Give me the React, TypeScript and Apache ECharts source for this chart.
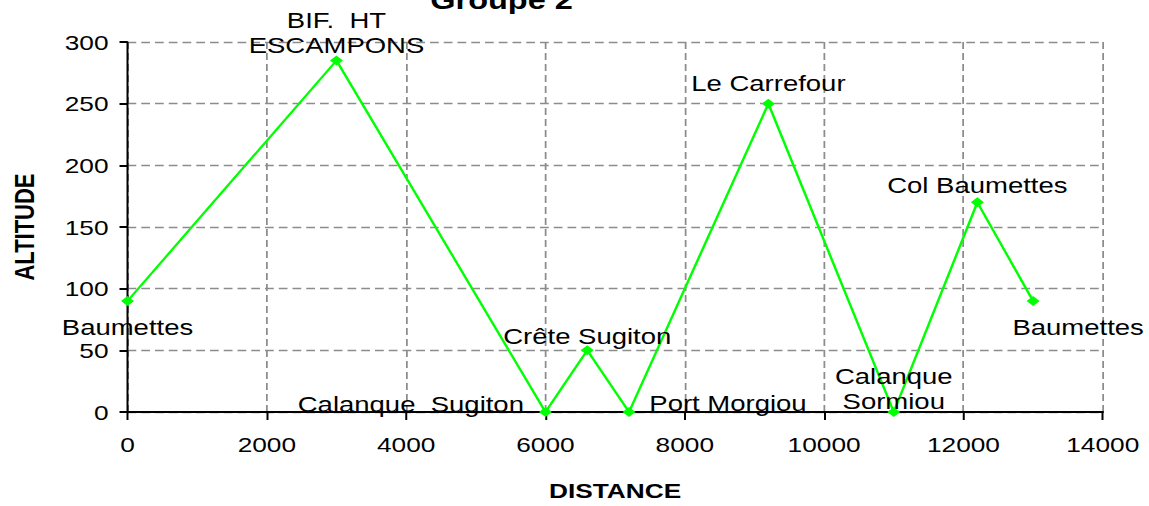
import React, { useEffect, useRef } from "react";
import * as echarts from "echarts";

const distances = [0, 3000, 6000, 6600, 7200, 9200, 11000, 12200, 13000];
const altitudes = [90, 285, 0, 50, 0, 250, 0, 170, 90];
const placeNames = [
  "Baumettes",
  "BIF.  HT\nESCAMPONS",
  "Calanque  Sugiton",
  "Crête Sugiton",
  "Port Morgiou",
  "Le Carrefour",
  "Calanque\nSormiou",
  "Col Baumettes",
  "Baumettes",
];
const xTicks = [0, 2000, 4000, 6000, 8000, 10000, 12000, 14000];
const yTicks = [0, 50, 100, 150, 200, 250, 300];

// The reference is stretched horizontally; the chart is drawn narrower and scaled in X.
const SX = 1.25;
const W = 1149 / SX;

// label placement per point (style only, inner coordinates)
const labelPlacement: any[] = [
  { position: "bottom", distance: 12, offset: [0, 0], align: "center", lh: 18 },
  { position: "top", distance: -2, offset: [0, 0], align: "center", lh: 25 },
  { position: "left", distance: 12, offset: [0, -8], align: "right", lh: 25 },
  { position: "top", distance: -3, offset: [0, 0], align: "center", lh: 25 },
  { position: "right", distance: 11, offset: [0, -9], align: "left", lh: 25 },
  { position: "top", distance: 3, offset: [0, 0], align: "center", lh: 25 },
  { position: "top", distance: -7, offset: [0, 0], align: "center", lh: 25 },
  { position: "top", distance: 0, offset: [0, 0], align: "center", lh: 25 },
  { position: "bottom", distance: 12, offset: [36, 0], align: "center", lh: 18 },
];

const FONT = "Liberation Sans";

export default function App() {
  const ref = useRef<HTMLDivElement>(null);
  useEffect(() => {
    if (!ref.current) return;
    const chart = echarts.init(ref.current, undefined, { renderer: "svg" });
    const data = distances.map((d, i) => ({
      value: [d, altitudes[i]],
      name: placeNames[i],
      label: {
        show: true,
        formatter: placeNames[i],
        position: labelPlacement[i].position,
        distance: labelPlacement[i].distance,
        offset: labelPlacement[i].offset,
        align: labelPlacement[i].align,
        color: "#000",
        fontFamily: FONT,
        fontSize: 22,
        lineHeight: labelPlacement[i].lh,
      },
    }));
    const gridLine = {
      show: true,
      lineStyle: { color: "#8c8c8c", width: 1.4, type: [7, 4] as any },
    };
    chart.setOption({
      animation: false,
      backgroundColor: "#fff",
      title: {
        text: "Groupe 2",
        left: 424 / SX,
        top: -18,
        textStyle: { fontFamily: FONT, fontSize: 26, fontWeight: "bold", color: "#000" },
      },
      grid: { left: 122 / SX, right: 46 / SX, top: 42, bottom: 90, containLabel: false },
      xAxis: {
        type: "value",
        min: xTicks[0],
        max: xTicks[xTicks.length - 1],
        interval: xTicks[1] - xTicks[0],
        name: "DISTANCE",
        nameLocation: "middle",
        nameGap: 68,
        nameTextStyle: { fontFamily: FONT, fontSize: 21, fontWeight: "bold", color: "#000" },
        axisLine: { show: true, lineStyle: { color: "#000", width: 2 } },
        axisTick: { show: true, length: 8, lineStyle: { color: "#000", width: 1.6 } },
        axisLabel: {
          fontFamily: FONT,
          fontSize: 21,
          color: "#000",
          margin: 22,
          formatter: (v: number) => String(v),
        },
        splitLine: gridLine,
      },
      yAxis: {
        type: "value",
        min: yTicks[0],
        max: yTicks[yTicks.length - 1],
        interval: yTicks[1] - yTicks[0],
        name: "ALTITUDE",
        nameLocation: "middle",
        nameGap: 72,
        nameTextStyle: { fontFamily: FONT, fontSize: 22, fontWeight: "bold", color: "#000" },
        axisLine: { show: true, lineStyle: { color: "#000", width: 1.6 } },
        axisTick: { show: true, length: 8 / SX, lineStyle: { color: "#000", width: 2 } },
        axisLabel: {
          fontFamily: FONT,
          fontSize: 21,
          color: "#000",
          margin: 19 / SX,
          formatter: (v: number) => String(v),
        },
        splitLine: gridLine,
      },
      series: [
        {
          type: "line",
          data,
          symbol: "diamond",
          symbolSize: [13 / SX, 10],
          itemStyle: { color: "#00ff00" },
          lineStyle: { color: "#00ff00", width: 2 },
          z: 3,
        },
      ],
    });
    return () => chart.dispose();
  }, []);
  return (
    <div
      ref={ref}
      style={{
        width: W,
        height: 506,
        position: "absolute",
        left: 0,
        top: 0,
        transform: `scaleX(${SX})`,
        transformOrigin: "0 0",
      }}
    />
  );
}
